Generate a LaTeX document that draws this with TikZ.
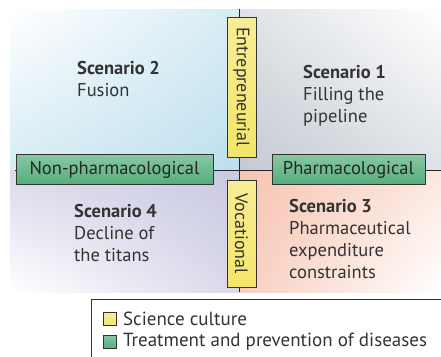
\documentclass[tikz,border=0pt]{standalone}
\usepackage{fontspec}
\setmainfont{PT Sans}
\usetikzlibrary{positioning,shadings}
\definecolor{qblue}{HTML}{BDDFEE}
\definecolor{qgray}{HTML}{C4CAD2}
\definecolor{qlav}{HTML}{C9C8E2}
\definecolor{qsalmon}{HTML}{F6C3B0}
\definecolor{boxyellow}{HTML}{F4E56A}
\definecolor{boxgreen}{HTML}{55AE7B}
\definecolor{txtgray}{HTML}{333333}
\tikzset{axisline/.style={draw=black!85, line width=0.8pt}}
\tikzset{culture/.style={draw=black!80, line width=0.8pt, top color=boxyellow!70!white, bottom color=boxyellow,
    inner sep=0pt, font=\fontsize{18}{18}\selectfont, text=txtgray}}
\tikzset{treat/.style={draw=black!80, line width=0.8pt, top color=boxgreen!70!white, bottom color=boxgreen,
    inner sep=0pt, minimum height=30pt, font=\fontsize{18.5}{18.5}\selectfont, text=black!85}}
\tikzset{scen/.style={align=left, anchor=base west, inner sep=0pt, text=txtgray,
    font=\fontsize{18.5}{21.7}\selectfont}}
\tikzset{legendtxt/.style={anchor=west, inner sep=0pt, text=txtgray, font=\fontsize{19}{19}\selectfont}}
\begin{document}
\begin{tikzpicture}[x=1pt,y=-1pt]
   \useasboundingbox (0,0) rectangle (441,356);
   \clip (0,0) rectangle (441,356);
   % quadrants
   \shade[upper left=white, upper right=qblue!60!white, lower left=qblue!60!white, lower right=qblue]
      (10,9) rectangle (239,170);
   \shade[upper left=qgray!55!white, upper right=white, lower left=qgray, lower right=qgray!55!white]
      (239,9) rectangle (441,170);
   \shade[upper left=qlav!70!white, upper right=qlav, lower left=white, lower right=qlav!70!white]
      (10,170) rectangle (239,292);
   \shade[upper left=qsalmon, upper right=qsalmon!40!white, lower left=qsalmon!80!white, lower right=white]
      (239,170) rectangle (441,292);
   % axes
   \coordinate (vtop) at (239,9);
   \coordinate (vbot) at (239,292);
   \coordinate (hleft) at (15,170);
   \coordinate (hright) at (445,170);
   \draw[axisline] (vtop) -- (vbot);
   \draw[axisline] (hleft) -- (hright);
   % axis labels
   \node[culture, rotate=-90, minimum width=140pt, minimum height=29pt] (entre) at (241.5,87) {Entrepreneurial};
   \node[culture, rotate=-90, minimum width=107pt, minimum height=29pt] (voc) at (241.5,233.5) {Vocational};
   \node[treat, minimum width=197pt] (nonpharm) at (114.5,169.5) {Non-pharmacological};
   \node[treat, minimum width=153pt] (pharm) at (348.5,169.5) {Pharmacological};
   % scenarios (base = last line)
   \node[scen] (s2) at (77,96.5) {\textbf{Scenario 2}\\Fusion};
   \node[scen] (s1) at (303,122) {\textbf{Scenario 1}\\Filling the\\pipeline};
   \node[scen] (s4) at (74,261) {\textbf{Scenario 4}\\Decline of\\the titans};
   \node[scen] (s3) at (289,278) {\textbf{Scenario 3}\\Pharmaceutical\\expenditure\\constraints};
   % legend
   \draw[draw=black!80, line width=0.8pt] (91,299) rectangle (460,370);
   \node[culture, minimum size=13pt] (keyyellow) at (110,319) {};
   \node[treat, minimum size=13pt, minimum height=13pt] (keygreen) at (110,342) {};
   \node[legendtxt, right=6pt of keyyellow] (culturetxt) {Science culture};
   \node[legendtxt, right=6pt of keygreen] (treattxt) {Treatment and prevention of diseases};
\end{tikzpicture}
\end{document}
